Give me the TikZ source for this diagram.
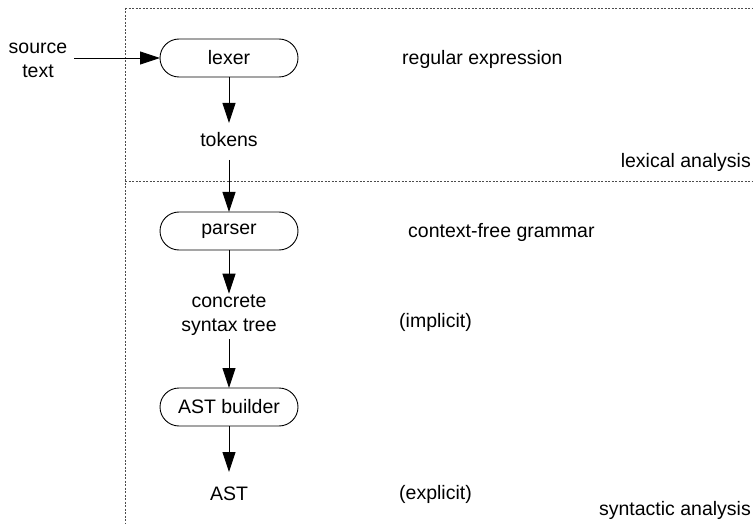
\documentclass[tikz,border=0pt]{standalone}
\usepackage{fontspec}
\setmainfont{Liberation Sans}
\usetikzlibrary{arrows.meta}
\tikzset{
  stage/.style={draw, line width=0.9pt, rounded corners=19pt, minimum width=138pt,
    minimum height=38pt, inner sep=0pt, outer sep=0pt},
  label/.style={inner sep=0pt, outer sep=0pt, text height=14pt, text depth=4pt, anchor=base},
  block/.style={inner sep=0pt, outer sep=0pt, align=center},
  note/.style={inner sep=0pt, anchor=base west},
  phase/.style={inner sep=0pt, anchor=base east},
  flow/.style={line width=0.9pt, -{Triangle[length=20pt,width=13pt]}},
  region/.style={line width=0.8pt, draw=black!70, dash pattern=on 2pt off 1.5pt}
}
\begin{document}
\begin{tikzpicture}[x=1pt,y=-1pt,font=\fontsize{19.5}{24}\selectfont]
\useasboundingbox (0,0) rectangle (753,524);

% phase boundaries
\draw[region] (125,8) -- (753,8);
\draw[region] (125,8) -- (125,524);
\draw[region] (125,181) -- (753,181);

% pipeline
\node[block] (src) at (38,60) {source\\text};
\node[stage] (lexer) at (229,58) {lexer};
\node[label] (tokens) at (229,147) {tokens};
\node[stage] (parser) at (229,231) {parser};
\node[block] (cst) at (229,315) {concrete\\syntax tree};
\node[stage] (astb) at (229,407) {AST builder};
\node[label] (ast) at (229,500) {AST};

\draw[flow, shorten <=7pt] (src.east |- lexer.west) -- (lexer.west);
\draw[flow, shorten >=10pt] (lexer) -- (tokens);
\draw[flow, shorten <=9pt] (tokens) -- (parser);
\draw[flow, shorten >=1pt] (parser) -- (cst);
\draw[flow, shorten <=4pt] (cst) -- (astb);
\draw[flow, shorten >=14pt] (astb) -- (ast);

% side notes
\node[note] (re) at (402,65) {regular expression};
\node[note] (cfg) at (408,237) {context-free grammar};
\node[note] (impl) at (399,327) {(implicit)};
\node[note] (expl) at (399,499) {(explicit)};
\node[phase] (lex) at (751,168) {lexical analysis};
\node[phase] (syn) at (751,515) {syntactic analysis};
\end{tikzpicture}
\end{document}
